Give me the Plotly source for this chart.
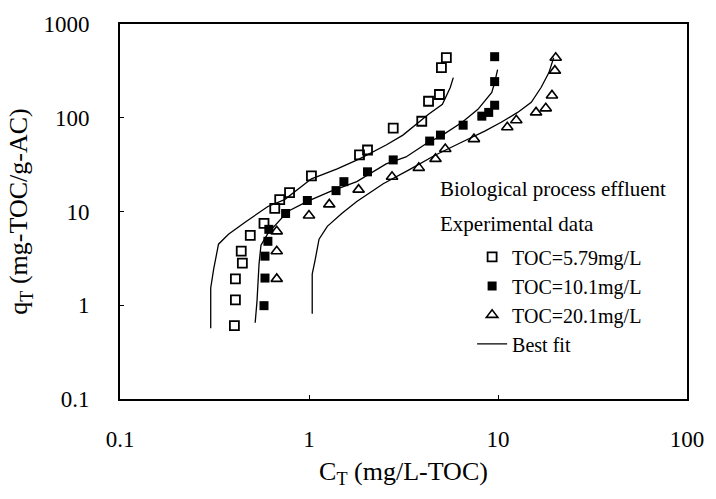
import plotly.graph_objects as go

# Experimental data: TOC = 5.79 mg/L (open squares)
c_579 = [0.403, 0.408, 0.408, 0.444, 0.438, 0.489, 0.578, 0.659, 0.700, 0.789, 1.03,
         1.85, 2.04, 2.79, 3.95, 4.29, 4.90, 5.02, 5.33]
q_579 = [0.607, 1.14, 1.91, 2.82, 3.77, 5.57, 7.46, 10.8, 13.4, 15.9, 24.0,
         40.1, 45.3, 77.4, 91.8, 150, 177, 342, 437]

# TOC = 10.1 mg/L (filled squares)
c_101 = [0.578, 0.585, 0.585, 0.606, 0.613, 0.752, 0.98, 1.39, 1.53, 2.04, 2.79,
         4.35, 4.96, 6.54, 8.21, 8.93, 9.60, 9.60, 9.60]
q_101 = [0.99, 1.95, 3.34, 4.81, 6.45, 9.52, 13.1, 16.7, 20.8, 26.5, 35.5,
         56.4, 65.3, 83.3, 104, 114, 136, 243, 448]

# TOC = 20.1 mg/L (open triangles)
c_201 = [0.675, 0.675, 0.675, 1.00, 1.28, 1.83, 2.75, 3.81, 4.67, 5.26, 7.46,
         11.2, 12.5, 15.9, 17.9, 19.3, 20.0, 20.2]
q_201 = [1.91, 3.77, 6.14, 9.07, 11.9, 17.1, 23.5, 29.2, 36.4, 46.4, 59.2,
         79.3, 94.1, 114, 126, 173, 318, 437]

# Best-fit curves
fit_c_579 = [0.302, 0.302, 0.313, 0.332, 0.375, 0.465, 0.606, 0.743, 1.03, 1.41, 1.85,
             2.56, 3.14, 3.81, 4.29, 5.08, 5.59, 5.80]
fit_q_579 = [0.57, 1.53, 2.43, 4.48, 5.71, 7.84, 11.3, 13.4, 22.3, 28.5, 36.4,
             51.2, 65.3, 89.6, 109, 139, 210, 268]

fit_c_101 = [0.519, 0.531, 0.544, 0.557, 0.606, 0.667, 0.771, 0.98, 1.29, 1.79, 2.56,
             3.26, 4.14, 5.08, 6.46, 7.83, 9.27, 9.60, 9.95]
fit_q_101 = [0.65, 1.12, 2.75, 4.37, 5.85, 7.29, 10.0, 12.8, 16.3, 20.8, 32.2,
             38.2, 52.5, 65.3, 89.6, 123, 186, 237, 326]

fit_c_201 = [1.04, 1.04, 1.08, 1.13, 1.25, 1.49, 1.79, 2.47, 3.38, 4.67, 6.46,
             8.51, 10.4, 12.7, 15.0, 16.9, 18.6, 19.7]
fit_q_201 = [0.81, 2.15, 3.11, 5.06, 6.94, 9.52, 12.8, 19.8, 27.8, 40.1, 55.1,
             71.9, 89.6, 114, 146, 210, 303, 437]

x_ticks = [0.1, 1, 10, 100]
x_tick_text = ["0.1", "1", "10", "100"]
y_ticks = [0.1, 1, 10, 100, 1000]
y_tick_text = ["0.1", "1", "10", "100", "1000"]

FONT = "Liberation Serif"

fig = go.Figure()

fig.add_trace(go.Scatter(x=c_579, y=q_579, mode="markers", name="TOC=5.79mg/L",
                         marker=dict(symbol="square-open", size=9, color="black",
                                     line=dict(width=1.8, color="black"))))
fig.add_trace(go.Scatter(x=c_101, y=q_101, mode="markers", name="TOC=10.1mg/L",
                         marker=dict(symbol="square", size=9, color="black",
                                     line=dict(width=0, color="black"))))
fig.add_trace(go.Scatter(x=c_201, y=q_201, mode="markers", name="TOC=20.1mg/L",
                         marker=dict(symbol="triangle-up-open", size=10, color="black",
                                     line=dict(width=1.6, color="black"))))

for i, (fx, fy) in enumerate([(fit_c_579, fit_q_579), (fit_c_101, fit_q_101), (fit_c_201, fit_q_201)]):
    fig.add_trace(go.Scatter(x=fx, y=fy, mode="lines", name="Best fit",
                             line=dict(color="black", width=1.3),
                             legendgroup="fit", showlegend=(i == 0)))

fig.add_annotation(text="Biological process effluent", xref="paper", yref="paper",
                   x=0.56, y=0.561, xanchor="left", yanchor="middle", showarrow=False,
                   font=dict(family=FONT, size=21, color="black"))
fig.add_annotation(text="Experimental data", xref="paper", yref="paper",
                   x=0.56, y=0.468, xanchor="left", yanchor="middle", showarrow=False,
                   font=dict(family=FONT, size=21, color="black"))

fig.update_layout(
    width=716, height=499,
    margin=dict(l=120, r=21, t=21, b=100),
    paper_bgcolor="white", plot_bgcolor="white",
    font=dict(family=FONT, size=20, color="black"),
    showlegend=True,
    legend=dict(x=0.621, y=0.431, xanchor="left", yanchor="top",
                bgcolor="rgba(0,0,0,0)", font=dict(family=FONT, size=20),
                itemwidth=30, tracegroupgap=0),
    xaxis=dict(type="log", range=[-1, 2], tickvals=x_ticks, ticktext=x_tick_text,
               showline=True, linecolor="black", linewidth=1.8, mirror=True,
               ticks="inside", ticklen=4, tickcolor="black", showgrid=False, zeroline=False,
               tickfont=dict(family=FONT, size=23), ticklabelstandoff=18,
               title=dict(text="C<sub>T</sub> (mg/L-TOC)", font=dict(family=FONT, size=26),
                          standoff=11)),
    yaxis=dict(type="log", range=[-1, 3], tickvals=y_ticks, ticktext=y_tick_text,
               showline=True, linecolor="black", linewidth=1.8, mirror=True,
               ticks="inside", ticklen=4, tickcolor="black", showgrid=False, zeroline=False,
               tickfont=dict(family=FONT, size=23), ticklabelstandoff=24,
               title=dict(text="q<sub>T</sub> (mg-TOC/g-AC)", font=dict(family=FONT, size=26),
                          standoff=8)),
)

fig.write_html("out.html")
